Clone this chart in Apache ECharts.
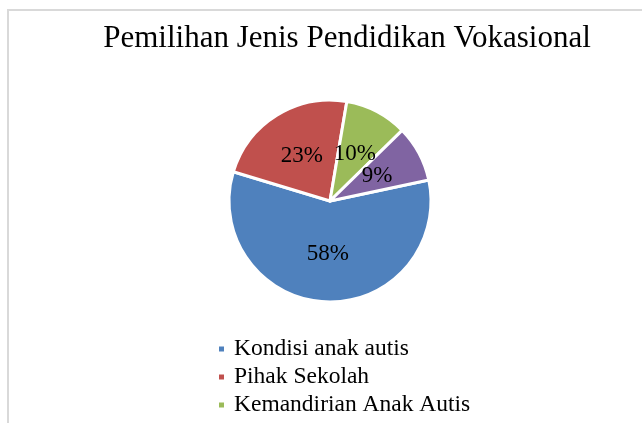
<!DOCTYPE html>
<html>
<head>
<meta charset="utf-8">
<script src="https://cdn.jsdelivr.net/npm/echarts@6/dist/echarts.min.js"></script>
<style>
  html, body { margin: 0; padding: 0; background: #fff; }
  #chart { width: 642px; height: 423px; }
</style>
</head>
<body>
<div id="chart"></div>
<script>
// data
const titleText = 'Pemilihan Jenis Pendidikan Vokasional';
const categories = ['Kondisi anak autis', 'Pihak Sekolah', 'Kemandirian Anak Autis', 'Lainnya'];
const values = [58, 23, 10, 9];
const colors = ['#4F81BD', '#C0504D', '#9BBB59', '#8064A2'];

const serif = '"Liberation Serif", "DejaVu Serif", serif';

const chart = echarts.init(document.getElementById('chart'), null, { renderer: 'canvas' });

const option = {
  backgroundColor: '#fff',
  color: colors,
  animation: false,
  title: {
    text: titleText,
    left: 342,
    top: 18,
    textAlign: 'center',
    textStyle: { fontFamily: serif, fontSize: 31, fontWeight: 'normal', color: '#000' }
  },
  legend: {
    orient: 'vertical',
    left: 217,
    top: 337,
    padding: 0,
    data: categories.slice(0, 3),
    icon: 'rect',
    itemWidth: 7,
    itemHeight: 7,
    itemGap: 4,
    textStyle: { fontFamily: serif, fontSize: 23.5, color: '#000', padding: [0, 0, 0, 4] }
  },
  graphic: [{
    type: 'rect',
    shape: { x: 8, y: 10, width: 700, height: 500 },
    style: { fill: 'none', stroke: '#d9d9d9', lineWidth: 2 },
    silent: true
  }],
  series: [{
    type: 'pie',
    center: [330, 201],
    radius: [0, 101],
    startAngle: 12,
    clockwise: true,
    avoidLabelOverlap: false,
    data: categories.map((name, i) => ({ name, value: values[i] })),
    itemStyle: { borderColor: '#fff', borderWidth: 3 },
    label: {
      position: 'inside',
      formatter: '{d}%',
      fontFamily: serif,
      fontSize: 23,
      color: '#000'
    },
    labelLayout: { hideOverlap: false },
    labelLine: { show: false },
    emphasis: { disabled: true }
  }]
};

chart.setOption(option);
</script>
</body>
</html>
